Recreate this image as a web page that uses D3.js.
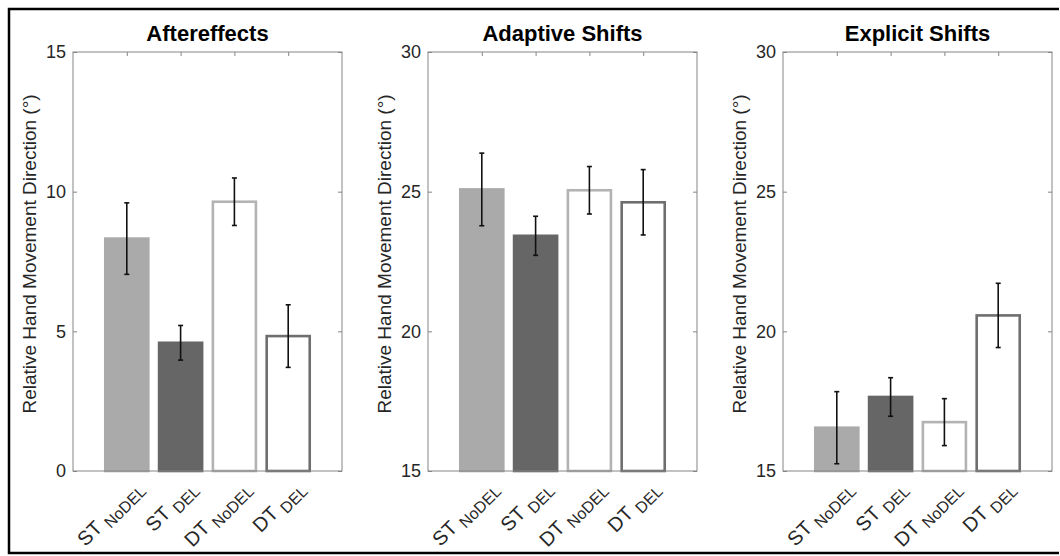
<!DOCTYPE html>
<html>
<head>
<meta charset="utf-8">
<script src="https://cdn.jsdelivr.net/npm/d3@7"></script>
<style>
  body { margin: 0; background: #fff; }
  svg { display: block; font-family: "Liberation Sans", Arial, sans-serif; }
  .box { fill: none; stroke: #858585; stroke-width: 1; }
  .axis path { display: none; }
  .axis line { stroke: #858585; }
  .axis text { fill: #262626; font-size: 18px; }
</style>
</head>
<body>
<script>
// data
var groups = ['ST', 'ST', 'DT', 'DT'];
var subs = ['NoDEL', 'DEL', 'NoDEL', 'DEL'];

var afterMean = [8.32, 4.59, 9.64, 4.83];
var afterErr = [1.28, 0.62, 0.85, 1.12];
var adaptMean = [25.08, 23.42, 25.05, 24.62];
var adaptErr = [1.30, 0.70, 0.85, 1.17];
var explMean = [16.55, 17.65, 16.75, 20.57];
var explErr = [1.29, 0.69, 0.84, 1.15];

var titles = ['Aftereffects', 'Adaptive Shifts', 'Explicit Shifts'];
var yTicksA = [0, 5, 10, 15];
var yTicksB = [15, 20, 25, 30];

var fills = ['#aaaaaa', '#666666', '#ffffff', '#ffffff'];
var edges = ['#aaaaaa', '#666666', '#b3b3b3', '#6e6e6e'];

var W = 1060, H = 556;
var svg = d3.select('body').append('svg')
  .attr('width', W).attr('height', H);

// outer frame
svg.append('path')
  .attr('d', 'M1059,9 L9,9 L9,553 L1059,553')
  .attr('fill', 'none').attr('stroke', '#000').attr('stroke-width', 2.5);

var panels = [
  { left: 73, mean: afterMean, err: afterErr, ticks: yTicksA },
  { left: 428, mean: adaptMean, err: adaptErr, ticks: yTicksB },
  { left: 783, mean: explMean, err: explErr, ticks: yTicksB }
];
var pw = 269, yTop = 52, yBot = 471;

panels.forEach(function (p, k) {
  var g = svg.append('g').attr('transform', 'translate(' + p.left + ',0)');

  var x = d3.scaleLinear().domain([0, 5]).range([0, pw]);
  var y = d3.scaleLinear()
    .domain([p.ticks[0], p.ticks[p.ticks.length - 1]])
    .range([yBot, yTop]);
  var bw = x(0.8) - x(0);

  // bars
  g.selectAll('.bar').data(p.mean).enter().append('rect')
    .attr('class', 'bar')
    .attr('x', function (d, i) { return x(i + 1) - bw / 2; })
    .attr('y', function (d) { return y(d); })
    .attr('width', bw)
    .attr('height', function (d) { return y(y.domain()[0]) - y(d); })
    .attr('fill', function (d, i) { return fills[i]; })
    .attr('stroke', function (d, i) { return edges[i]; })
    .attr('stroke-width', 2.6);

  // error bars
  var eb = g.selectAll('.err').data(p.mean).enter().append('g')
    .attr('class', 'err')
    .attr('stroke', '#111').attr('stroke-width', 1.6);
  eb.append('line')
    .attr('x1', function (d, i) { return x(i + 1); })
    .attr('x2', function (d, i) { return x(i + 1); })
    .attr('y1', function (d, i) { return y(d - p.err[i]); })
    .attr('y2', function (d, i) { return y(d + p.err[i]); });
  [-1, 1].forEach(function (s) {
    eb.append('line')
      .attr('x1', function (d, i) { return x(i + 1) - 2.5; })
      .attr('x2', function (d, i) { return x(i + 1) + 2.5; })
      .attr('y1', function (d, i) { return y(d + s * p.err[i]); })
      .attr('y2', function (d, i) { return y(d + s * p.err[i]); });
  });

  // axes box and inward ticks
  g.append('rect').attr('class', 'box')
    .attr('x', 0).attr('y', yTop).attr('width', pw).attr('height', yBot - yTop);

  g.append('g').attr('class', 'axis')
    .call(d3.axisLeft(y).tickValues(p.ticks).tickSizeInner(-4).tickSizeOuter(0).tickPadding(7)
      .tickFormat(d3.format('d')));
  g.append('g').attr('class', 'axis')
    .attr('transform', 'translate(' + pw + ',0)')
    .call(d3.axisRight(y).tickValues(p.ticks).tickSizeInner(-4).tickSizeOuter(0).tickFormat(''));
  g.append('g').attr('class', 'axis')
    .attr('transform', 'translate(0,' + yTop + ')')
    .call(d3.axisTop(x).tickValues([1, 2, 3, 4]).tickSizeInner(-4).tickSizeOuter(0).tickFormat(''));

  // rotated category labels
  var lab = g.selectAll('.xlab').data(groups).enter().append('text')
    .attr('class', 'xlab')
    .attr('transform', function (d, i) {
      return 'translate(' + (x(i + 1) + 17) + ',' + (yBot + 18) + ') rotate(-45)';
    })
    .attr('text-anchor', 'end')
    .attr('fill', '#262626')
    .style('font-size', '20px');
  lab.append('tspan').text(function (d) { return d + ' '; });
  lab.append('tspan')
    .attr('dy', 5)
    .style('font-size', '16px')
    .text(function (d, i) { return subs[i]; });

  // title
  g.append('text')
    .attr('x', pw / 2).attr('y', 41)
    .attr('text-anchor', 'middle')
    .style('font-size', '22px').style('font-weight', 'bold')
    .text(titles[k]);

  // y label
  g.append('text')
    .attr('transform', 'translate(-37,254) rotate(-90)')
    .attr('text-anchor', 'middle')
    .attr('fill', '#262626')
    .style('font-size', '19px')
    .text('Relative Hand Movement Direction (°)');
});
</script>
</body>
</html>
